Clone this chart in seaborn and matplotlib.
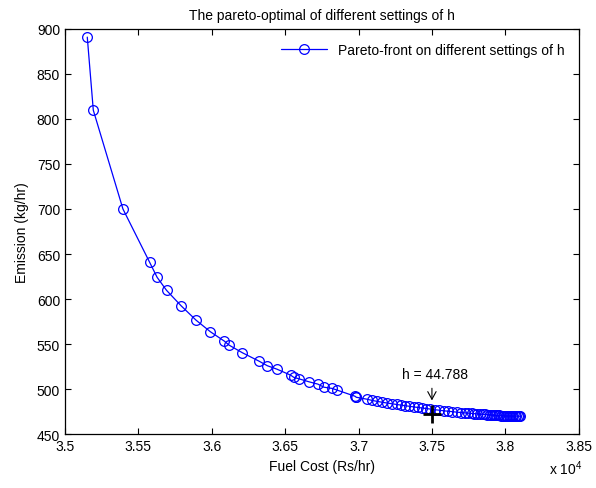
import matplotlib
matplotlib.use('Agg')
import matplotlib.pyplot as plt
import seaborn as sns

# Pareto front (fuel cost in Rs/hr, emission in kg/hr)
fuel_cost = [
    35152, 35193, 35395, 35576, 35628, 35692, 35791, 35893, 35991, 36086,
    36118, 36209, 36322, 36379, 36444, 36537, 36560, 36592, 36662, 36723,
    36764, 36821, 36855, 36975, 36980, 36985, 37056, 37090, 37125, 37160,
    37195, 37228, 37260, 37290, 37318, 37347, 37376, 37405, 37433, 37462,
    37490, 37520, 37548, 37580, 37610, 37640, 37668, 37700, 37725, 37748,
    37770, 37790, 37810, 37828, 37845, 37862, 37878, 37893, 37908, 37922,
    37935, 37948, 37960, 37972, 37983, 37994, 38004, 38014, 38024, 38034,
    38044, 38054, 38064, 38074, 38084, 38094, 38102,
]
emission = [
    890.8, 809.7, 700.0, 641.1, 624.1, 609.7, 592.6, 576.6, 563.7, 553.3,
    548.9, 540.4, 531.1, 526.0, 522.2, 515.6, 513.0, 511.6, 508.2, 505.6,
    502.2, 500.8, 498.9, 492.2, 491.6, 491.0, 488.9, 487.6, 486.5, 485.5,
    484.6, 483.8, 483.0, 482.3, 481.6, 481.0, 480.3, 479.7, 479.1, 478.5,
    477.9, 477.2, 476.7, 476.0, 475.5, 475.0, 474.5, 474.0, 473.7, 473.4,
    473.1, 472.8, 472.5, 472.3, 472.1, 471.9, 471.7, 471.5, 471.3, 471.2,
    471.0, 470.9, 470.8, 470.7, 470.6, 470.5, 470.4, 470.4, 470.3, 470.3,
    470.2, 470.2, 470.1, 470.1, 470.1, 470.0, 470.0,
]

# chosen setting
h_label = 'h = 44.788'
h_point = (37500, 472.0)

x_ticks = [35000, 35500, 36000, 36500, 37000, 37500, 38000, 38500]
x_tick_labels = ['3.5', '3.55', '3.6', '3.65', '3.7', '3.75', '3.8', '3.85']
y_ticks = [450, 500, 550, 600, 650, 700, 750, 800, 850, 900]

sns.set_style('ticks')
plt.rcParams['font.family'] = ['Liberation Sans', 'DejaVu Sans']
plt.rcParams['font.size'] = 10
plt.rcParams['text.color'] = 'black'
plt.rcParams['axes.labelcolor'] = 'black'
plt.rcParams['xtick.direction'] = 'in'
plt.rcParams['ytick.direction'] = 'in'

fig = plt.figure(figsize=(5.96, 4.89), dpi=100)
ax = fig.add_axes([0.109, 0.110, 0.862, 0.829])

sns.lineplot(x=fuel_cost, y=emission, ax=ax, estimator=None, sort=False,
             color='#0000ff', linewidth=0.9, marker='o', markersize=7,
             markerfacecolor='none', markeredgecolor='#0000ff',
             markeredgewidth=0.9, label='Pareto-front on different settings of h')

ax.plot(*h_point, marker='+', color='black', markersize=13, markeredgewidth=2)
ax.annotate('', xy=(37500, 487.5), xytext=(37500, 501),
            arrowprops=dict(arrowstyle='->, head_length=0.55, head_width=0.3',
                            color='black', lw=0.8, shrinkA=0, shrinkB=0))
ax.text(37297, 509, h_label, ha='left', va='bottom', fontsize=10)

ax.set_xlim(35000, 38500)
ax.set_ylim(450, 900)
ax.set_xticks(x_ticks)
ax.set_xticklabels(x_tick_labels)
ax.set_yticks(y_ticks)
ax.tick_params(top=True, right=True, length=4.5, width=0.8, colors='black', labelsize=10)
for s in ax.spines.values():
    s.set_visible(True)
    s.set_linewidth(0.9)
    s.set_color('black')

ax.text(1.008, -0.083, r'x $\mathregular{10^4}$', transform=ax.transAxes,
        ha='right', va='center', fontsize=10)

ax.set_xlabel('Fuel Cost (Rs/hr)', fontsize=10, labelpad=4)
ax.set_ylabel('Emission (kg/hr)', fontsize=10, labelpad=6)
ax.set_title('The pareto-optimal of different settings of h', fontsize=10, pad=7)

leg = ax.legend(loc='upper right', frameon=False, fontsize=10,
                handlelength=3.3, borderaxespad=0.6)

fig.savefig('out.png', dpi=100)
